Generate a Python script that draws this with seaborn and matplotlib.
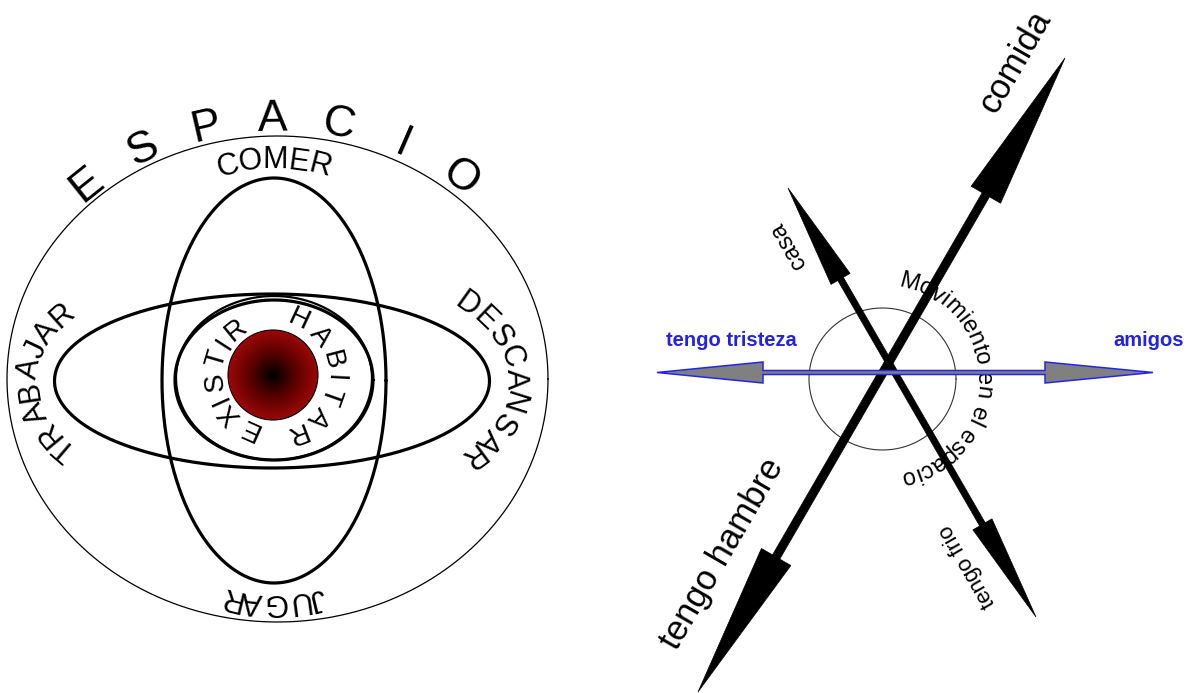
import numpy as np
import matplotlib
matplotlib.use("Agg")
import matplotlib.pyplot as plt
from matplotlib.patches import Polygon, Circle
from matplotlib.colors import LinearSegmentedColormap
import seaborn as sns

# ---- left diagram: words written round the rings ----
ring_words = ["ESPACIO", "COMER", "JUGAR", "TRABAJAR", "DESCANSAR", "EXISTIR", "HABITAR"]
ring_centres = [(277.5, 379), (274, 380.5), (274, 380.5), (272, 381), (272, 381), (273, 375), (273, 375)]
ring_radii = [(288, 260), (200, 220), (200, 222), (243, 128), (243, 128), (58, 58), (61, 61)]
ring_angles = [(131.5, 50.5), (103.4, 76.7), (-77.6, -102.5), (211.7, 149.4),
               (36.5, -35.3), (246, 129), (65, -69)]
ring_sizes = [32, 22, 22, 22, 22, 20, 20]

# ellipse outlines: centre x, centre y, a, b, tilt, line width
orbits = [(277.5, 379, 270.5, 243, 0, 0.9),
          (274, 380.5, 112, 202.5, 0, 2.3),
          (272, 381, 217.5, 87, 0, 2.3),
          (274, 380, 99, 80, 0, 2.3),
          (274, 378, 98, 82, 0, 1.6)]

core = (273, 375, 45)

# ---- right diagram ----
arrow_ends = [((698, 692), (1065, 58)), ((788, 188), (1036, 617))]
arrow_shaft = [4.2, 3.2]
arrow_heads = [((156, 17), (158, 17)), ((105, 11), (107, 11))]

black_labels = ["comida", "tengo hambre", "casa", "tengo frio"]
black_label_xy = [(1015, 62), (722, 554), (788, 245), (968, 566)]
black_label_rot = [60, 60, 120, 120]
black_label_size = [25, 25, 17, 16]

blue_labels = ["tengo tristeza", "amigos"]
blue_label_xy = [(731, 341), (1149, 341)]

move_text = "Movimiento en el espacio"
move_ring = (883, 379, 100)
move_angles = (74.6, -75.8)

# Arial / Liberation Sans advance widths (per 1000 em)
W = {"A": 667, "B": 667, "C": 722, "D": 722, "E": 667, "G": 778, "H": 722, "I": 278,
     "J": 500, "M": 833, "N": 722, "O": 778, "P": 667, "R": 722, "S": 667, "T": 611,
     "U": 722, "X": 667, "a": 556, "c": 500, "e": 556, "i": 222, "l": 222, "m": 833,
     "n": 556, "o": 556, "p": 556, "s": 500, "t": 278, "v": 500, " ": 278}

sns.set_theme(style="white")
plt.rcParams["font.family"] = ["Liberation Sans", "DejaVu Sans"]
plt.rcParams["text.color"] = "black"

NARROW = ["Liberation Sans Narrow", "Liberation Sans", "DejaVu Sans"]


def ellipse_xy(cx, cy, a, b, tilt=0, n=400):
    t = np.linspace(0, 2 * np.pi, n)
    p = np.radians(tilt)
    x = a * np.cos(t)
    y = b * np.sin(t)
    return cx + x * np.cos(p) - y * np.sin(p), cy - (x * np.sin(p) + y * np.cos(p))


def arc_text(ax, word, centre, radii, t0, t1, size, even=False, z=5, **kw):
    """Write a word letter by letter clockwise along an ellipse."""
    cx, cy = centre
    a, b = radii
    ts = np.linspace(t0, t1, 800)
    x = cx + a * np.cos(np.radians(ts))
    y = cy - b * np.sin(np.radians(ts))
    s = np.concatenate([[0], np.cumsum(np.hypot(np.diff(x), np.diff(y)))])
    if even:
        f = np.linspace(0, 1, len(word))
    else:
        w = np.array([W.get(ch, 556) for ch in word], float)
        mid = np.cumsum(w) - w / 2
        f = (mid - mid[0]) / (mid[-1] - mid[0])
    for ch, fi in zip(word, f):
        if ch == " ":
            continue
        t = np.radians(np.interp(fi * s[-1], s, ts))
        px, py = cx + a * np.cos(t), cy - b * np.sin(t)
        rot = np.degrees(np.arctan2(-b * np.cos(t), a * np.sin(t)))
        ax.text(px, py, ch, rotation=rot, rotation_mode="anchor", ha="center",
                va="center", fontsize=size, zorder=z, color="black", **kw)


def arrow_poly(p0, p1, half_shaft, head0, head1):
    p0, p1 = np.array(p0, float), np.array(p1, float)
    u = (p1 - p0) / np.linalg.norm(p1 - p0)
    n = np.array([-u[1], u[0]])
    b0 = p0 + u * head0[0]
    b1 = p1 - u * head1[0]
    return [p0, b0 + n * head0[1], b0 + n * half_shaft, b1 + n * half_shaft,
            b1 + n * head1[1], p1, b1 - n * head1[1], b1 - n * half_shaft,
            b0 - n * half_shaft, b0 - n * head0[1]]


fig = plt.figure(figsize=(11.98, 6.93), dpi=100)
ax = fig.add_axes([0, 0, 1, 1])

# rings
for cx, cy, a, b, tilt, lw in orbits:
    ex, ey = ellipse_xy(cx, cy, a, b, tilt)
    sns.lineplot(x=ex, y=ey, sort=False, estimator=None, color="black", lw=lw, ax=ax)

# red core with radial shading
cx, cy, r = core
g = np.linspace(-1, 1, 300)
gx, gy = np.meshgrid(g, g)
cmap = LinearSegmentedColormap.from_list("core", ["#000000", "#5a0000", "#9c0808"])
img = ax.imshow(np.clip(np.hypot(gx, gy), 0, 1), cmap=cmap, vmin=0, vmax=1,
                extent=(cx - r, cx + r, cy + r, cy - r), zorder=4, interpolation="bilinear")
clip = Circle((cx, cy), r, transform=ax.transData)
img.set_clip_path(clip)
ax.add_patch(Circle((cx, cy), r, fill=False, ec="black", lw=0.8, zorder=4))

for i, word in enumerate(ring_words):
    arc_text(ax, word, ring_centres[i], ring_radii[i], ring_angles[i][0], ring_angles[i][1],
             ring_sizes[i], even=(word == "ESPACIO"), family=NARROW if i else None)

# right diagram: thin circle
mx, my, mr = move_ring
ex, ey = ellipse_xy(882.5, 379, 73.5, 71)
sns.lineplot(x=ex, y=ey, sort=False, estimator=None, color="#333333", lw=0.8, ax=ax)

arc_text(ax, move_text, (mx, my), (mr, mr), move_angles[0], move_angles[1], 17, z=2.5)

# black double arrows
for (p0, p1), hs, (h0, h1) in zip(arrow_ends, arrow_shaft, arrow_heads):
    ax.add_patch(Polygon(arrow_poly(p0, p1, hs, h0, h1), closed=True, fc="black",
                         ec="black", lw=0.5, zorder=3))

# blue horizontal arrow
ax.add_patch(Polygon(arrow_poly((657, 372.5), (1153, 372.5), 2.0, (106, 10.5), (108, 10.5)),
                     closed=True, fc="#808080", ec="#2424f0", lw=1.1, zorder=4))

for txt, (tx, ty), rot, fs in zip(black_labels, black_label_xy, black_label_rot, black_label_size):
    ax.text(tx, ty, txt, rotation=rot, rotation_mode="anchor", ha="center", va="center",
            fontsize=fs, color="black", zorder=5)

for txt, (tx, ty) in zip(blue_labels, blue_label_xy):
    ax.text(tx, ty, txt, ha="center", va="center", fontsize=14.5, fontweight="bold",
            color="#2222e6", zorder=5)

ax.set_xlim(0, 1198)
ax.set_ylim(693, 0)
ax.set_aspect("auto")
ax.axis("off")

fig.savefig("out.png", dpi=100, facecolor="white")
